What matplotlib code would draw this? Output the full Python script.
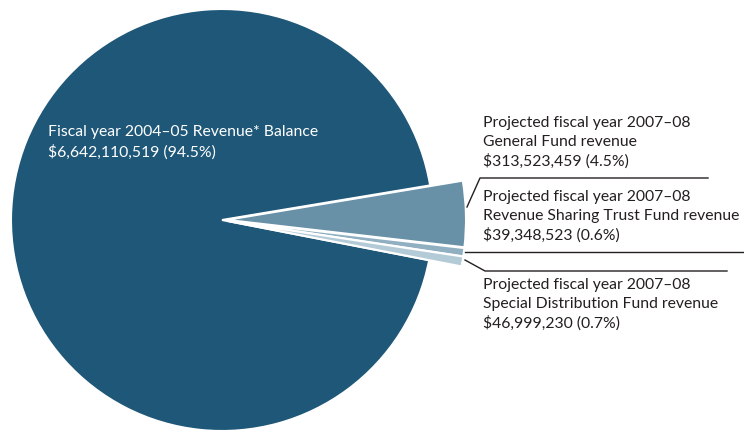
import matplotlib.pyplot as plt

# data #
labels = ['Fiscal year 2004\u201305 Revenue* Balance',
          'Projected fiscal year 2007\u201308\nGeneral Fund revenue',
          'Projected fiscal year 2007\u201308\nRevenue Sharing Trust Fund revenue',
          'Projected fiscal year 2007\u201308\nSpecial Distribution Fund revenue']
amounts = [6642110519, 313523459, 39348523, 46999230]
shares = ['94.5%', '4.5%', '0.6%', '0.7%']
colors = ['#1e5777', '#6890a6', '#90b0c2', '#b3cad7']

plt.rcParams['font.family'] = ['Lato', 'DejaVu Sans']

fig = plt.figure(figsize=(7.44, 4.30), dpi=100)
ax = fig.add_axes([0, 0, 1, 1])

# pie, small slices pulled out a bit and drawn bigger #
wedges, _ = ax.pie(amounts, colors=colors, center=(222, 210), radius=211,
                   startangle=-11, counterclock=False,
                   explode=[0, 5, 5, 5],
                   wedgeprops=dict(edgecolor='white', linewidth=1.5))
for w in wedges[1:]:
    w.set_radius(239)

ax.set_xlim(0, 744)
ax.set_ylim(0, 430)
ax.set_aspect('equal')
ax.axis('off')

def money(v):
    return '${:,}'.format(v)

fs = 11.3
# big slice label #
ax.text(48, 430 - 125, labels[0] + '\n' + money(amounts[0]) + ' (' + shares[0] + ')',
        color='white', fontsize=fs, va='top', ha='left', linespacing=1.45)

# small slice labels #
txt_y = [116, 190, 278]
for i, ty in zip(range(1, 4), txt_y):
    ax.text(483, 430 - ty, labels[i] + '\n' + money(amounts[i]) + ' (' + shares[i] + ')',
            color='#231f20', fontsize=fs, va='top', ha='left', linespacing=1.42)

# leader lines #
lc = '#231f20'
ax.plot([467, 480, 708], [430 - 207, 430 - 178, 430 - 178], color=lc, lw=1)
ax.plot([465, 744], [430 - 252, 430 - 252], color=lc, lw=1)
ax.plot([465, 485, 727], [430 - 260, 430 - 271, 430 - 271], color=lc, lw=1)

plt.savefig('out.png', dpi=100)
